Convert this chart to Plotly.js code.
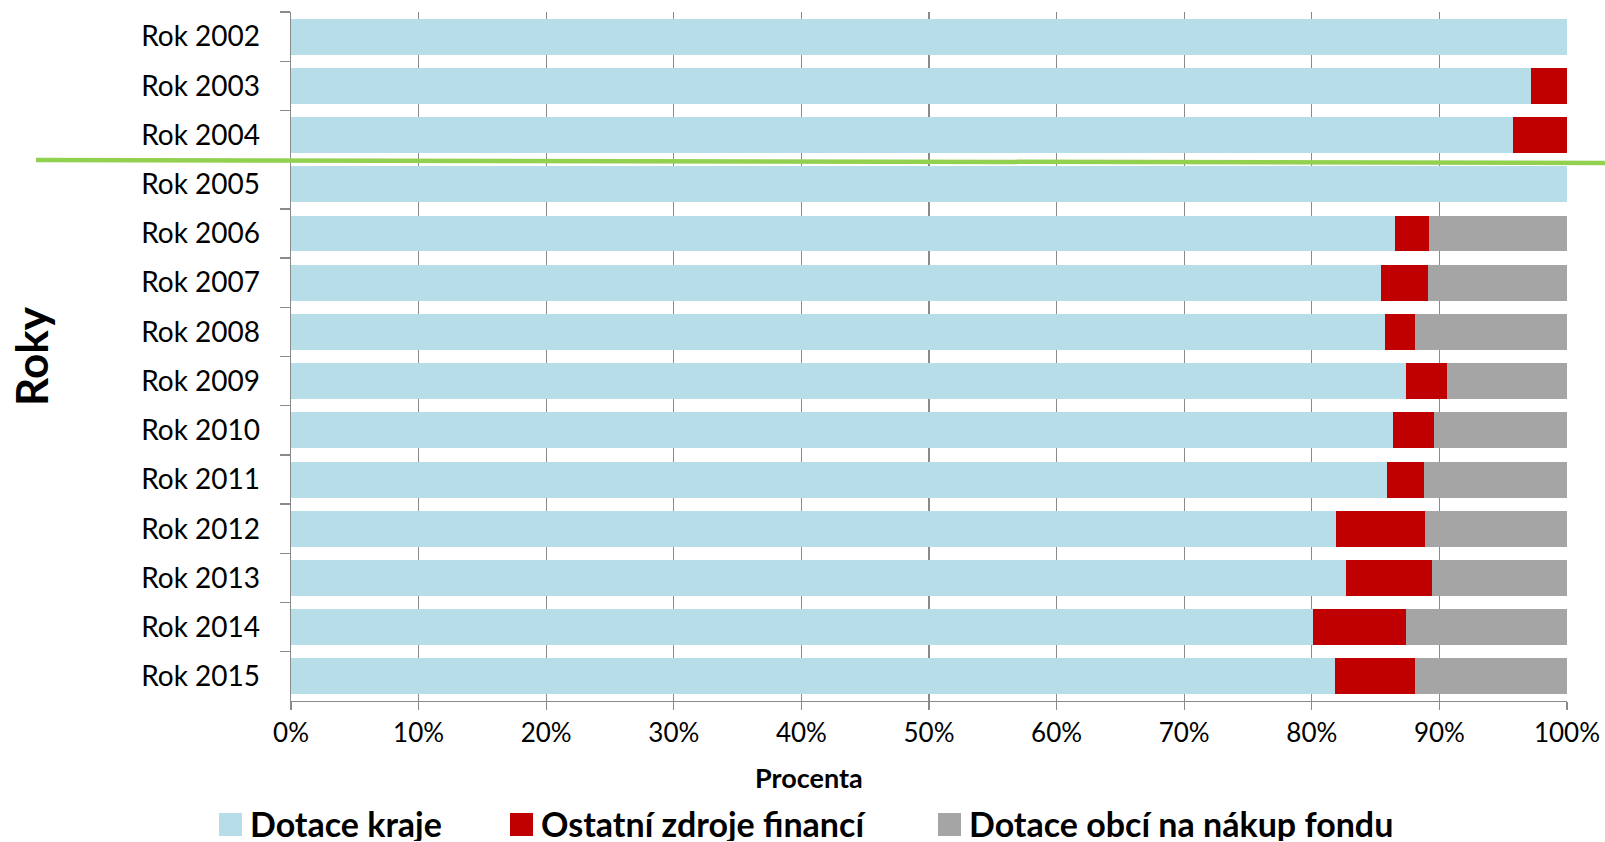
<!DOCTYPE html>
<html>
<head>
<meta charset="utf-8">
<script src="https://cdn.plot.ly/plotly-3.0.1.min.js"></script>
<style>html,body{margin:0;padding:0;background:#fff;}#chart{width:1605px;height:842px;}</style>
</head>
<body>
<div id="chart"></div>
<script>
var categories = ['Rok 2002','Rok 2003','Rok 2004','Rok 2005','Rok 2006','Rok 2007','Rok 2008','Rok 2009','Rok 2010','Rok 2011','Rok 2012','Rok 2013','Rok 2014','Rok 2015'];
var seriesNames = ['Dotace kraje','Ostatní zdroje financí','Dotace obcí na nákup fondu'];
var dotaceKraje = [100, 97.2, 95.8, 100, 86.5, 85.4, 85.7, 87.4, 86.4, 85.9, 81.9, 82.7, 80.1, 81.8];
var ostatniZdroje = [0, 2.8, 4.2, 0, 2.7, 3.7, 2.4, 3.2, 3.2, 2.9, 7.0, 6.7, 7.3, 6.3];
var dotaceObci = [0, 0, 0, 0, 10.8, 10.9, 11.9, 9.4, 10.4, 11.2, 11.1, 10.6, 12.6, 11.9];
var colors = ['#B7DDE8','#C00000','#A5A5A5'];
var xTickVals = [0,10,20,30,40,50,60,70,80,90,100];
var xTickText = ['0%','10%','20%','30%','40%','50%','60%','70%','80%','90%','100%'];
var xTitle = 'Procenta';
var yTitle = 'Roky';

var W = 1605, H = 842;
var M = {l: 291, r: 38, t: 12, b: 141};
var PW = W - M.l - M.r, PH = H - M.t - M.b;
function px(x){ return (x - M.l) / PW; }
function py(y){ return (H - M.b - y) / PH; }

var data = [dotaceKraje, ostatniZdroje, dotaceObci].map(function(vals, i){
  return {
    type: 'bar', orientation: 'h', name: seriesNames[i],
    y: categories, x: vals,
    marker: {color: colors[i], line: {width: 0}},
    showlegend: false, hoverinfo: 'x+y+name'
  };
});

var FONT = 'Lato, "Open Sans", sans-serif';
var shapes = [{
  type: 'line', xref: 'paper', yref: 'paper', layer: 'above',
  x0: px(36), x1: px(1605), y0: py(160), y1: py(163),
  line: {color: '#92D050', width: 4.5}
}];
var annotations = [{
  xref: 'paper', yref: 'paper', x: px(809), y: py(777),
  xanchor: 'center', yanchor: 'middle', showarrow: false,
  text: '<b>' + xTitle + '</b>', font: {family: FONT, size: 27, color: '#000'}
}];
var legX = [219, 510, 938];
for (var i = 0; i < 3; i++) {
  shapes.push({
    type: 'rect', xref: 'paper', yref: 'paper', layer: 'above',
    x0: px(legX[i]), x1: px(legX[i] + 23), y0: py(836), y1: py(813),
    fillcolor: colors[i], line: {width: 0}
  });
  annotations.push({
    xref: 'paper', yref: 'paper', x: px(legX[i] + 30), y: py(823),
    xanchor: 'left', yanchor: 'middle', showarrow: false,
    height: 36, borderpad: 0, valign: 'middle',
    text: '<b>' + seriesNames[i] + '</b>', font: {family: FONT, size: 34, color: '#000'}
  });
}

var layout = {
  width: W, height: H,
  margin: M,
  paper_bgcolor: '#fff', plot_bgcolor: '#fff',
  barmode: 'stack', bargap: 0.27,
  showlegend: false,
  font: {family: FONT, color: '#000'},
  xaxis: {
    range: [0, 100], tickvals: xTickVals, ticktext: xTickText,
    showgrid: true, gridcolor: '#8a8a8a', gridwidth: 1.3,
    showline: true, linecolor: '#8a8a8a', linewidth: 1.3,
    ticks: 'outside', ticklen: 8, tickcolor: '#8a8a8a', tickwidth: 1.3,
    tickfont: {family: FONT, size: 26, color: '#000'},
    zeroline: false, fixedrange: true
  },
  yaxis: {
    type: 'category', autorange: 'reversed',
    showgrid: false, zeroline: false,
    showline: true, linecolor: '#8a8a8a', linewidth: 1.3,
    ticks: 'outside', tickson: 'boundaries', ticklen: 10, tickcolor: '#8a8a8a', tickwidth: 1.3,
    ticklabelstandoff: 24,
    tickfont: {family: FONT, size: 28, color: '#000'},
    fixedrange: true,
    title: {text: '<b>' + yTitle + '</b>', font: {family: FONT, size: 44, color: '#000'}, standoff: 78}
  },
  shapes: shapes,
  annotations: annotations
};

Plotly.newPlot('chart', data, layout, {displayModeBar: false, staticPlot: true});
</script>
</body>
</html>
